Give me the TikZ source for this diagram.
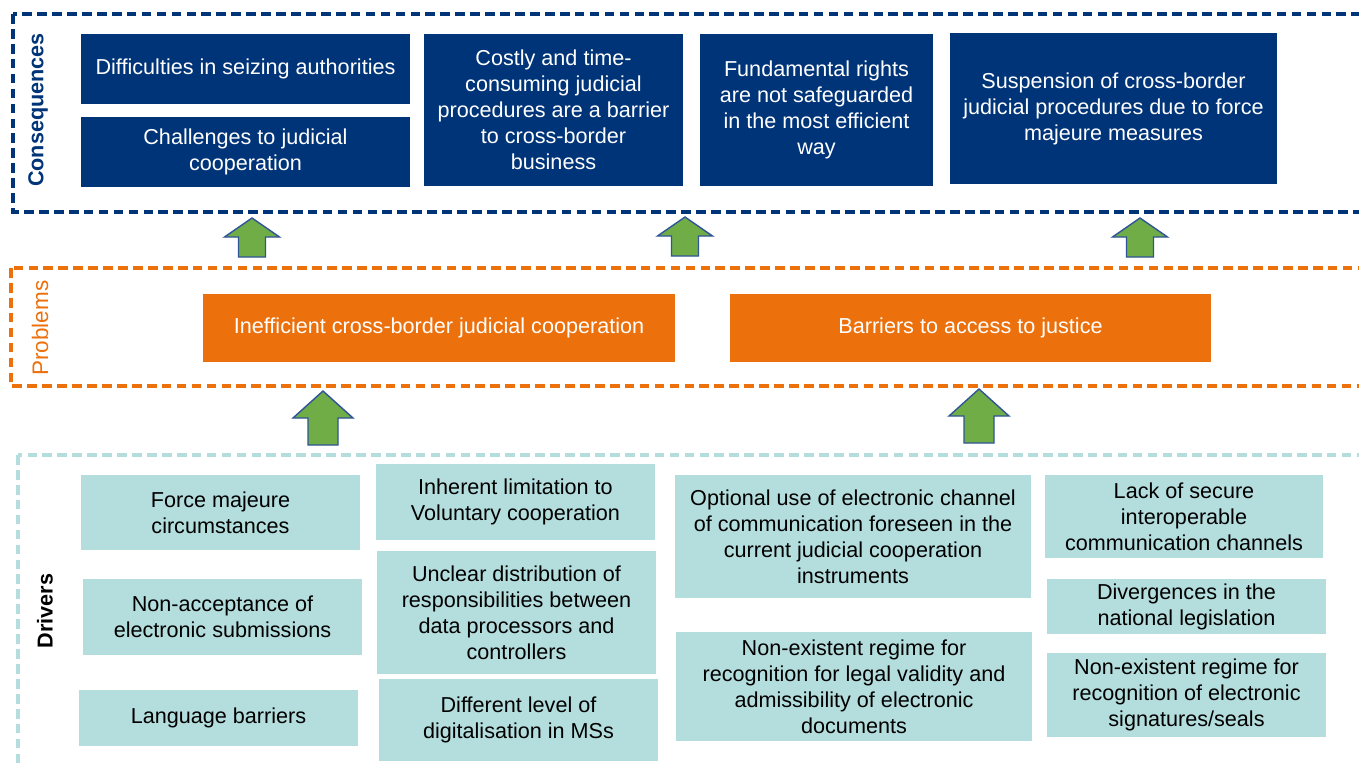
\documentclass[tikz,border=0pt]{standalone}
\usepackage{fontspec}
\setmainfont{Liberation Sans}
\definecolor{cnavy}{RGB}{0,52,120}
\definecolor{porange}{RGB}{236,112,12}
\definecolor{dteal}{RGB}{180,221,221}
\definecolor{agreen}{RGB}{112,173,71}
\definecolor{ablue}{RGB}{47,85,151}
\begin{document}
\begin{tikzpicture}[x=0.02cm,y=-0.02cm,
  every node/.style={font=\fontsize{12.3}{14.8}\selectfont},
  conseq/.style={fill=cnavy,text=white,align=center,inner sep=0pt},
  problem/.style={fill=porange,text=white,align=center,inner sep=0pt},
  driver/.style={fill=dteal,text=black,align=center,inner sep=0pt},
  layer/.style={line width=2pt,dash pattern=on 5.5pt off 3pt},
  uparrow/.style={fill=agreen,draw=ablue,line width=0.8pt,line join=miter}]
\useasboundingbox (0,0) rectangle (1359,762);

% layers
\draw[layer,draw=cnavy] (13,14) rectangle (1400,212);
\draw[layer,draw=porange] (11,268) rectangle (1400,386);
\draw[layer,draw=dteal] (18,455) rectangle (1400,800);

\node[rotate=90,text=cnavy,font=\fontsize{12.3}{14.8}\selectfont\bfseries] (conslabel) at (38,110) {Consequences};
\node[rotate=90,text=porange,font=\fontsize{12.8}{14.8}\selectfont] (problabel) at (40,328) {Problems};
\node[rotate=90,text=black,font=\fontsize{12.3}{14.8}\selectfont\bfseries] (drvlabel) at (45,611) {Drivers};

% consequences
\node[conseq,minimum width=6.58cm,minimum height=1.4cm] (seize) at (245.5,69) {Difficulties in seizing authorities};
\node[conseq,minimum width=6.58cm,minimum height=1.4cm] (challenge) at (245.5,152) {Challenges to judicial\\cooperation};
\node[conseq,minimum width=5.18cm,minimum height=3.04cm] (costly) at (553.5,110) {Costly and time-\\consuming judicial\\procedures are a barrier\\to cross-border\\business};
\node[conseq,minimum width=4.66cm,minimum height=3.04cm] (rights) at (816.5,110) {Fundamental rights\\are not safeguarded\\in the most efficient\\way};
\node[conseq,minimum width=6.54cm,minimum height=3.02cm] (suspend) at (1113.5,108.5) {Suspension of cross-border\\judicial procedures due to force\\majeure measures};

% problems
\node[problem,minimum width=9.44cm,minimum height=1.36cm] (ineff) at (439,328) {Inefficient cross-border judicial cooperation};
\node[problem,minimum width=9.62cm,minimum height=1.36cm] (access) at (970.5,328) {Barriers to access to justice};

% drivers
\node[driver,minimum width=5.58cm,minimum height=1.5cm] (force) at (220.5,512.5) {Force majeure\\circumstances};
\node[driver,minimum width=5.58cm,minimum height=1.52cm] (nonaccept) at (222.5,617) {Non-acceptance of\\electronic submissions};
\node[driver,minimum width=5.58cm,minimum height=1.12cm] (lang) at (218.5,718) {Language barriers};
\node[driver,minimum width=5.58cm,minimum height=1.52cm] (inherent) at (515.5,502) {Inherent limitation to\\Voluntary cooperation};
\node[driver,minimum width=5.58cm,minimum height=2.46cm] (unclear) at (516.5,612.5) {Unclear distribution of\\responsibilities between\\data processors and\\controllers};
\node[driver,minimum width=5.58cm,minimum height=1.64cm] (digital) at (518.5,720) {Different level of\\digitalisation in MSs};
\node[driver,minimum width=7.12cm,minimum height=2.46cm] (optional) at (853,536.5) {Optional use of electronic channel\\of communication foreseen in the\\current judicial cooperation\\instruments};
\node[driver,minimum width=7.12cm,minimum height=2.18cm] (legal) at (854,686.5) {Non-existent regime for\\recognition for legal validity and\\admissibility of electronic\\documents};
\node[driver,minimum width=5.56cm,minimum height=1.66cm] (secure) at (1184,516.5) {Lack of secure\\interoperable\\communication channels};
\node[driver,minimum width=5.58cm,minimum height=1.1cm] (diverge) at (1186.5,606.5) {Divergences in the\\national legislation};
\node[driver,minimum width=5.58cm,minimum height=1.68cm] (signat) at (1186.5,695) {Non-existent regime for\\recognition of electronic\\signatures/seals};

% arrows
\foreach \cx/\ty in {252/218, 685/217, 1140/218}
  \filldraw[uparrow] (\cx,\ty) -- ++(27.5,19) -- ++(-14,0) -- ++(0,20) -- ++(-27,0) -- ++(0,-20) -- ++(-14,0) -- cycle;
\foreach \cx/\ty in {323/391, 979/389}
  \filldraw[uparrow] (\cx,\ty) -- ++(30,27) -- ++(-15,0) -- ++(0,27) -- ++(-30,0) -- ++(0,-27) -- ++(-15,0) -- cycle;
\end{tikzpicture}
\end{document}
